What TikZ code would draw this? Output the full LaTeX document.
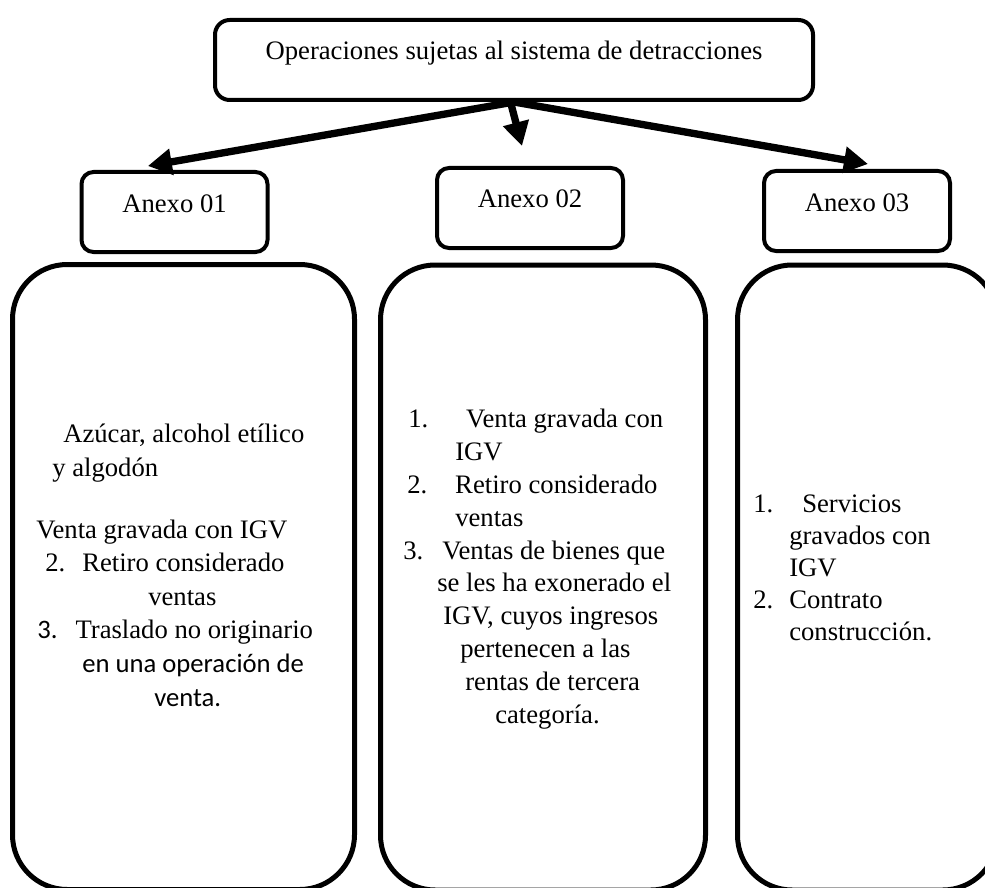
\documentclass[tikz,border=0pt]{standalone}
\usepackage{fontspec}
\setmainfont{Liberation Serif}
\newfontfamily\calibri{Carlito}
\usetikzlibrary{arrows.meta}
\newcommand{\sangria}[1]{\hspace*{0.75\dimexpr#1pt\relax}}% sangria en px
\tikzset{
  caja/.style = {draw, inner sep=0pt, line width=3pt,
    text height=30pt, text depth=30pt, minimum height=60pt},
  caja_op/.style = {caja, rounded corners=11pt, minimum width=448.5pt},% caja superior
  caja_anexo/.style = {caja, rounded corners=9pt, minimum width=139.5pt},% anexos
  caja_lista/.style = {draw, inner sep=0pt, line width=3.75pt,
    rounded corners=41pt, minimum height=468.75pt},% columnas
  txt_lista/.style = {anchor=base west, align=left, inner sep=0pt},% base = ultima linea
  flecha/.style = {line width=5.5pt, -{Triangle[length=18pt, width=19pt]}}
}
\begin{document}
\begin{tikzpicture}[x=0.75pt, y=-0.75pt, font=\fontsize{20}{25.2}\selectfont]
\useasboundingbox (0,0) rectangle (985,888);
\fill [white] (0,0) rectangle (985,888);
\clip (0,0) rectangle (985,888);

\node [caja_op] (op) at (514,60) {Operaciones sujetas al sistema de detracciones};
\node [caja_anexo] (an1) at (174.5,212) {Anexo 01};
\node [caja_anexo] (an2) at (530,208) {Anexo 02};
\node [caja_anexo] (an3) at (857,211) {Anexo 03};

\node [caja_lista, minimum width=256.5pt] (li1) at (183.5,577) {};
\node [caja_lista, minimum width=243.75pt] (li2) at (543,577.5) {};
\node [caja_lista, minimum width=195pt] (li3) at (867.5,577.5) {};

\node [txt_lista] (tx1) at (36,706) {%
  \sangria{27}Azúcar, alcohol etílico\\
  \sangria{16}y algodón\\[21pt]
  Venta gravada con IGV\\
  \sangria{9}2.\sangria{17}Retiro considerado\\
  \sangria{112}ventas\\
  \sangria{1}{\calibri 3.}\sangria{18}Traslado no originario\\
  \sangria{46}{\calibri en una operación de}\\
  \sangria{118}{\calibri venta.}};
\node [txt_lista, font=\fontsize{20}{24.6}\selectfont] (tx2) at (403,723) {%
  \sangria{5}1.\sangria{38}Venta gravada con\\
  \sangria{52}IGV\\
  \sangria{4}2.\sangria{28}Retiro considerado\\
  \sangria{52}ventas\\
  3.\sangria{19}Ventas de bienes que\\
  \sangria{34}se les ha exonerado el\\
  \sangria{40}IGV, cuyos ingresos\\
  \sangria{57}pertenecen a las\\
  \sangria{62}rentas de tercera\\
  \sangria{92}categoría.};
\node [txt_lista, font=\fontsize{20}{24}\selectfont] (tx3) at (753,640) {%
  1.\sangria{29}Servicios\\
  \sangria{36}gravados con\\
  \sangria{36}IGV\\
  2.\sangria{16}Contrato\\
  \sangria{36}construcción.};

\draw [flecha] (op.south) -- ([xshift=-20pt, yshift=3pt]an1.north);
\draw [flecha] ([xshift=-2.25pt, yshift=-1.5pt]op.south) -- ([xshift=-6pt, yshift=15pt]an2.north);
\draw [flecha] (op.south) -- ([xshift=8.25pt, yshift=3.75pt]an3.north);
\end{tikzpicture}
\end{document}
